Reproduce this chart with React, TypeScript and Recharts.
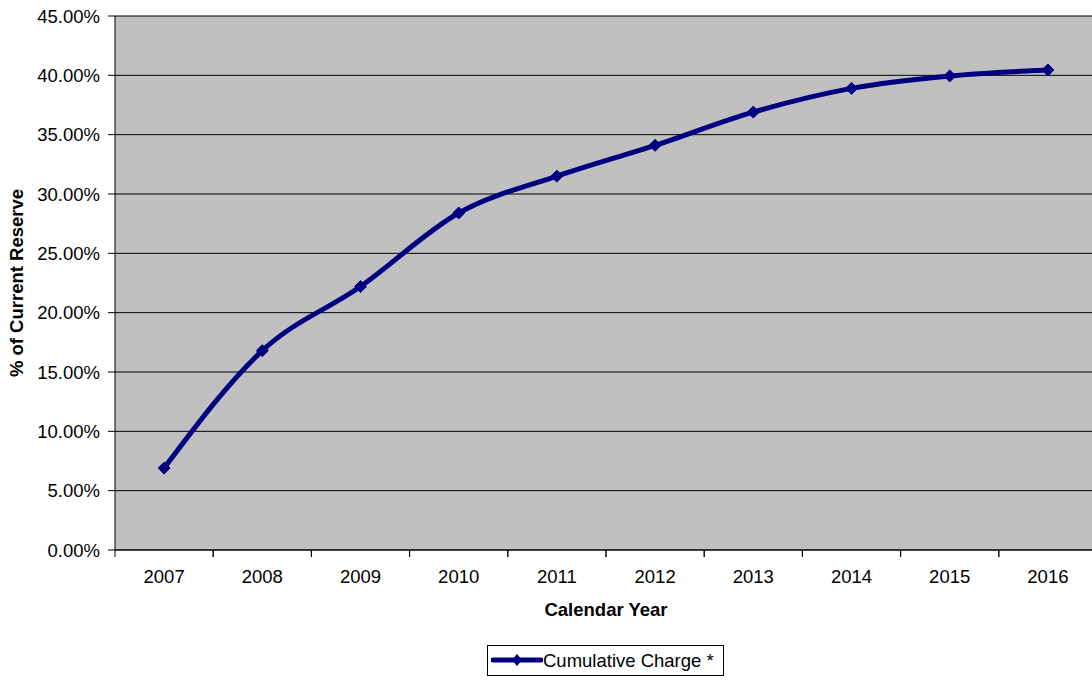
import { CartesianGrid, Line, LineChart, XAxis, YAxis } from "recharts";

const years = ["2007", "2008", "2009", "2010", "2011", "2012", "2013", "2014", "2015", "2016"];
const cumulativeCharge = [6.9, 16.8, 22.2, 28.4, 31.5, 34.1, 36.9, 38.9, 39.95, 40.45];
const yTicks = [0, 5, 10, 15, 20, 25, 30, 35, 40, 45];
const seriesName = "Cumulative Charge *";

const data = years.map((year, i) => ({ year, charge: cumulativeCharge[i] }));

const CHART_W = 1100;
const CHART_H = 680;
const MARGIN = { top: 16, right: 3, left: 0, bottom: 0 };
const Y_AXIS_W = 115;
const X_AXIS_H = 130;
const BAND = (CHART_W - MARGIN.right - MARGIN.left - Y_AXIS_W) / years.length;

const font = "'Liberation Sans', Arial, sans-serif";
const fontSize = 18.5;
const navy = "#000080";

function YearTick({ x, y, payload }: any) {
  const axisY = y - 20;
  return (
    <g>
      <line x1={x - BAND / 2} x2={x - BAND / 2} y1={axisY} y2={axisY + 7} stroke="#000" />
      <line x1={x + BAND / 2} x2={x + BAND / 2} y1={axisY} y2={axisY + 7} stroke="#000" />
      <text x={x} y={y + 13} textAnchor="middle" fontSize={fontSize} fill="#000" fontFamily={font}>
        {payload.value}
      </text>
    </g>
  );
}

function Diamond({ cx, cy }: any) {
  const r = 6;
  return (
    <polygon
      points={`${cx},${cy - r} ${cx + r},${cy} ${cx},${cy + r} ${cx - r},${cy}`}
      fill={navy}
      stroke={navy}
    />
  );
}

function YLabel({ viewBox }: any) {
  const cx = 16;
  const cy = viewBox.y + viewBox.height / 2;
  return (
    <text
      x={cx}
      y={cy}
      transform={`rotate(-90, ${cx}, ${cy})`}
      textAnchor="middle"
      dominantBaseline="central"
      fontSize={fontSize}
      fontWeight="bold"
      fontFamily={font}
      fill="#000"
    >
      % of Current Reserve
    </text>
  );
}

function XLabel({ viewBox }: any) {
  return (
    <text
      x={viewBox.x + viewBox.width / 2}
      y={609}
      textAnchor="middle"
      dominantBaseline="central"
      fontSize={fontSize}
      fontWeight="bold"
      fontFamily={font}
      fill="#000"
    >
      Calendar Year
    </text>
  );
}

export default function App() {
  return (
    <div
      style={{
        position: "absolute",
        left: 0,
        top: 0,
        width: 1092,
        height: 680,
        overflow: "hidden",
        background: "#fff",
        fontFamily: font,
      }}
    >
      <LineChart width={CHART_W} height={CHART_H} data={data} margin={MARGIN}>
        <CartesianGrid fill="#C0C0C0" stroke="#000" vertical={false} />
        <XAxis
          dataKey="year"
          height={X_AXIS_H}
          stroke="#000"
          padding={{ left: BAND / 2, right: BAND / 2 }}
          tickLine={false}
          tickSize={7}
          tickMargin={13}
          interval={0}
          tick={<YearTick />}
          label={<XLabel />}
        />
        <YAxis
          domain={[0, 45]}
          ticks={yTicks}
          width={Y_AXIS_W}
          stroke="#000"
          tickSize={7}
          tickMargin={8}
          tickFormatter={(v) => `${Number(v).toFixed(2)}%`}
          tick={{ fill: "#000", fontSize, fontFamily: font }}
          label={<YLabel />}
        />
        <Line
          type="monotone"
          dataKey="charge"
          name={seriesName}
          stroke={navy}
          strokeWidth={5}
          dot={<Diamond />}
          activeDot={false}
          isAnimationActive={false}
        />
      </LineChart>
      <div
        style={{
          position: "absolute",
          left: 487,
          top: 645,
          width: 237,
          height: 31,
          boxSizing: "border-box",
          border: "1px solid #000",
          display: "flex",
          alignItems: "center",
          fontSize,
          color: "#000",
          whiteSpace: "nowrap",
        }}
      >
        <svg width={52} height={29} style={{ marginLeft: 3, flexShrink: 0 }}>
          <line x1={2} x2={50} y1={14} y2={14} stroke={navy} strokeWidth={5} strokeLinecap="round" />
          <polygon points="26,8 31,14 26,20 21,14" fill={navy} />
        </svg>
        <span>{seriesName}</span>
      </div>
    </div>
  );
}
